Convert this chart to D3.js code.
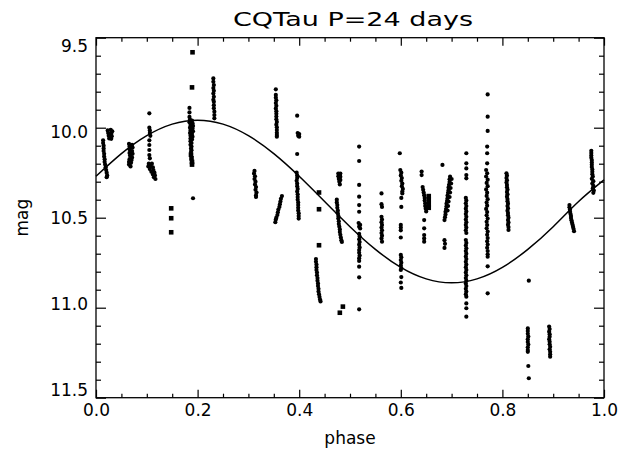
<!DOCTYPE html>
<html>
<head>
<meta charset="utf-8">
<script src="https://cdn.jsdelivr.net/npm/d3@7"></script>
<style>
body { margin: 0; background: #fff; }
text { font-family: "DejaVu Sans", sans-serif; fill: #000; }
</style>
</head>
<body>
<div id="dis"></div>
<script>
var TITLE = "CQTau P=24 days";
var X_LABEL = "phase";
var Y_LABEL = "mag";

var xTicks = [0, 0.2, 0.4, 0.6, 0.8, 1.0];
var xMinor = [0.05, 0.1, 0.15, 0.25, 0.3, 0.35, 0.45, 0.5, 0.55, 0.65, 0.7, 0.75, 0.85, 0.9, 0.95];
var yTicks = [9.5, 10.0, 10.5, 11.0, 11.5];
var yMinor = [9.6, 9.7, 9.8, 9.9, 10.1, 10.2, 10.3, 10.4, 10.6, 10.7, 10.8, 10.9, 11.1, 11.2, 11.3, 11.4];

// fitted light curve, every 0.05 in phase
var fitPhase = [0, 0.05, 0.1, 0.15, 0.2, 0.25, 0.3, 0.35, 0.4, 0.45, 0.5,
                0.55, 0.6, 0.65, 0.7, 0.75, 0.8, 0.85, 0.9, 0.95, 1.0];
var fitMag = [10.270, 10.144, 10.044, 9.980, 9.958, 9.980, 10.044, 10.144, 10.270, 10.410, 10.550,
              10.676, 10.776, 10.840, 10.862, 10.840, 10.776, 10.676, 10.550, 10.410, 10.290];

// observations plotted as dots: [phase, mag]
var dotObs = [
    // ~0.02
    [0.014,10.07],[0.014,10.085],[0.015,10.10],[0.015,10.115],[0.015,10.13],[0.016,10.145],[0.016,10.16],
    [0.017,10.175],[0.017,10.19],[0.018,10.205],[0.019,10.22],[0.020,10.235],[0.021,10.25],[0.022,10.265],[0.021,10.275],
    [0.023,10.015],[0.029,10.012],[0.032,10.02],[0.024,10.03],[0.030,10.032],[0.025,10.045],[0.031,10.047],[0.026,10.06],[0.030,10.062],
    // ~0.07
    [0.065,10.09],[0.071,10.095],[0.066,10.105],[0.072,10.11],[0.066,10.12],[0.071,10.13],[0.066,10.14],[0.072,10.145],
    [0.067,10.155],[0.071,10.165],[0.066,10.175],[0.070,10.18],[0.065,10.19],[0.069,10.195],[0.065,10.205],[0.068,10.215],
    // ~0.105
    [0.105,9.92],[0.105,10.0],[0.106,10.015],[0.106,10.03],[0.107,10.045],[0.105,10.07],[0.105,10.096],[0.105,10.124],
    [0.105,10.152],[0.106,10.17],[0.104,10.20],[0.110,10.20],[0.103,10.215],[0.108,10.215],[0.112,10.22],[0.106,10.23],
    [0.113,10.235],[0.109,10.245],[0.115,10.25],[0.112,10.26],[0.116,10.265],[0.114,10.275],[0.117,10.285],
    // ~0.19
    [0.184,9.89],[0.184,9.915],[0.184,9.94],[0.185,9.955],[0.189,9.96],[0.184,9.97],[0.190,9.975],[0.186,9.985],
    [0.191,9.99],[0.185,10.0],[0.190,10.005],[0.186,10.015],[0.191,10.02],[0.185,10.03],[0.189,10.035],[0.186,10.045],
    [0.190,10.05],[0.186,10.06],[0.189,10.065],[0.186,10.075],[0.188,10.085],[0.186,10.095],[0.188,10.105],[0.187,10.115],
    [0.188,10.125],[0.187,10.135],[0.191,10.392],
    // ~0.23
    [0.231,9.726],[0.231,9.745],[0.232,9.763],[0.231,9.78],[0.232,9.795],[0.231,9.81],[0.232,9.828],[0.231,9.845],
    [0.232,9.856],[0.232,9.875],[0.232,9.892],[0.233,9.911],[0.233,9.93],[0.233,9.948],
    // ~0.31
    [0.312,10.24],[0.311,10.255],[0.313,10.27],[0.312,10.285],[0.314,10.30],[0.313,10.315],[0.315,10.33],[0.314,10.345],
    [0.316,10.36],[0.315,10.375],[0.315,10.385],
    // ~0.355
    [0.354,9.787],[0.354,9.818],[0.354,9.833],[0.355,9.848],[0.354,9.863],[0.355,9.878],[0.354,9.893],[0.355,9.908],
    [0.355,9.923],[0.355,9.938],[0.355,9.953],[0.356,9.968],[0.355,9.983],[0.356,9.998],[0.356,10.013],[0.356,10.028],
    [0.356,10.04],[0.356,10.05],
    [0.366,10.38],[0.364,10.395],[0.363,10.41],[0.362,10.425],[0.361,10.44],[0.359,10.455],[0.358,10.47],[0.357,10.485],
    [0.355,10.50],[0.354,10.51],[0.353,10.525],
    // ~0.397
    [0.396,9.933],[0.397,10.03],[0.400,10.035],[0.398,10.045],[0.400,10.05],[0.396,10.146],
    [0.395,10.25],[0.396,10.265],[0.396,10.28],[0.395,10.295],[0.396,10.31],[0.396,10.325],[0.397,10.34],[0.396,10.355],
    [0.397,10.37],[0.397,10.385],[0.397,10.40],[0.398,10.415],[0.398,10.43],[0.398,10.445],[0.398,10.46],[0.399,10.475],
    [0.399,10.49],[0.399,10.505],
    // ~0.435
    [0.433,10.73],[0.433,10.745],[0.434,10.76],[0.434,10.775],[0.434,10.79],[0.435,10.805],[0.435,10.82],[0.436,10.835],
    [0.436,10.85],[0.437,10.865],[0.437,10.88],[0.438,10.895],[0.438,10.91],[0.439,10.925],[0.440,10.94],[0.441,10.955],[0.442,10.965],
    // ~0.478
    [0.477,10.255],[0.481,10.255],[0.477,10.27],[0.481,10.272],[0.478,10.285],[0.481,10.29],[0.479,10.30],[0.480,10.315],
    [0.474,10.40],[0.474,10.415],[0.475,10.43],[0.475,10.445],[0.476,10.46],[0.476,10.475],[0.477,10.49],[0.477,10.505],
    [0.478,10.52],[0.478,10.535],[0.479,10.55],[0.480,10.565],[0.480,10.58],[0.481,10.595],[0.482,10.61],[0.483,10.625],[0.484,10.635],
    // ~0.518
    [0.518,10.105],[0.518,10.185],[0.518,10.318],[0.518,10.383],[0.518,10.43],[0.518,10.467],[0.517,10.53],[0.520,10.54],
    [0.518,10.55],[0.520,10.56],[0.518,10.59],[0.519,10.605],[0.518,10.62],[0.519,10.635],[0.518,10.65],[0.519,10.665],
    [0.518,10.68],[0.518,10.695],[0.519,10.71],[0.518,10.725],[0.518,10.74],[0.518,10.772],[0.518,10.831],[0.518,11.009],
    // ~0.562
    [0.562,10.365],[0.562,10.425],[0.563,10.44],[0.562,10.495],[0.563,10.51],[0.562,10.525],[0.563,10.54],[0.562,10.555],
    [0.563,10.57],[0.562,10.585],[0.563,10.60],[0.562,10.615],[0.563,10.633],
    // ~0.60
    [0.598,10.142],[0.599,10.235],[0.601,10.25],[0.600,10.265],[0.602,10.28],[0.601,10.295],[0.603,10.31],[0.602,10.325],
    [0.604,10.34],[0.603,10.355],[0.603,10.365],[0.601,10.39],[0.601,10.44],[0.600,10.54],[0.600,10.555],[0.600,10.57],
    [0.600,10.61],[0.600,10.707],[0.601,10.72],[0.600,10.735],[0.601,10.75],[0.600,10.765],[0.601,10.78],[0.600,10.79],
    [0.601,10.83],[0.600,10.86],[0.601,10.89],
    // ~0.646
    [0.641,10.244],[0.641,10.263],[0.643,10.33],[0.644,10.345],[0.645,10.36],[0.646,10.375],[0.647,10.39],[0.647,10.405],
    [0.648,10.42],[0.648,10.435],[0.649,10.45],[0.650,10.465],[0.646,10.513],[0.646,10.559],[0.646,10.596],[0.646,10.615],[0.646,10.633],
    // ~0.69
    [0.682,10.207],
    [0.697,10.272],[0.696,10.287],[0.696,10.302],[0.695,10.317],[0.694,10.332],[0.694,10.347],[0.693,10.362],[0.692,10.377],
    [0.692,10.392],[0.691,10.407],[0.690,10.422],[0.690,10.437],[0.689,10.452],[0.688,10.467],[0.688,10.482],[0.687,10.497],[0.686,10.513],
    [0.700,10.285],[0.699,10.31],[0.698,10.335],[0.697,10.36],[0.696,10.385],[0.694,10.41],[0.693,10.435],[0.692,10.46],
    [0.686,10.625],[0.687,10.645],[0.686,10.668],
    // ~0.729
    [0.729,10.142],[0.729,10.198],[0.729,10.226],[0.729,10.263],[0.729,10.281],
    [0.728,10.39],[0.729,10.405],[0.728,10.42],[0.729,10.435],[0.728,10.45],[0.729,10.465],[0.728,10.48],[0.729,10.495],
    [0.728,10.51],[0.729,10.525],[0.728,10.54],[0.729,10.555],[0.728,10.57],[0.729,10.585],
    [0.728,10.624],[0.729,10.64],[0.728,10.655],[0.729,10.67],[0.728,10.685],[0.729,10.70],[0.728,10.715],[0.729,10.73],
    [0.728,10.745],[0.729,10.76],[0.728,10.775],[0.729,10.79],[0.728,10.805],[0.729,10.82],[0.728,10.835],[0.729,10.85],
    [0.728,10.865],[0.729,10.88],[0.728,10.895],[0.729,10.91],[0.728,10.925],[0.729,10.939],[0.729,10.976],[0.729,11.003],[0.729,11.05],
    // ~0.77
    [0.771,9.815],[0.771,9.939],[0.771,10.018],[0.770,10.105],[0.770,10.142],[0.770,10.198],
    [0.768,10.235],[0.770,10.253],[0.768,10.271],[0.771,10.289],[0.769,10.307],[0.771,10.325],[0.768,10.343],[0.770,10.361],
    [0.769,10.379],[0.771,10.397],[0.769,10.415],[0.770,10.433],[0.768,10.451],[0.770,10.469],[0.769,10.487],[0.771,10.505],
    [0.769,10.523],[0.770,10.541],[0.769,10.559],[0.771,10.577],[0.770,10.595],[0.771,10.613],[0.770,10.631],[0.771,10.649],
    [0.770,10.667],[0.771,10.685],[0.771,10.703],[0.771,10.717],[0.771,10.77],[0.771,10.92],
    // ~0.81
    [0.808,10.253],[0.809,10.266],[0.808,10.279],[0.809,10.292],[0.808,10.305],[0.809,10.318],[0.809,10.331],[0.810,10.344],
    [0.809,10.357],[0.810,10.37],[0.809,10.383],[0.810,10.396],[0.810,10.409],[0.811,10.422],[0.810,10.435],[0.811,10.448],
    [0.810,10.461],[0.811,10.474],[0.811,10.487],[0.812,10.50],[0.811,10.513],[0.812,10.526],[0.811,10.539],[0.812,10.552],[0.812,10.568],
    // ~0.85
    [0.852,10.85],
    [0.850,11.115],[0.850,11.13],[0.850,11.145],[0.851,11.16],[0.850,11.175],[0.850,11.19],[0.851,11.205],[0.850,11.22],
    [0.850,11.235],[0.850,11.245],[0.851,11.324],[0.852,11.392],
    // ~0.89
    [0.892,11.105],[0.893,11.119],[0.892,11.133],[0.893,11.147],[0.893,11.161],[0.892,11.175],[0.893,11.189],[0.893,11.203],
    [0.894,11.217],[0.893,11.231],[0.894,11.245],[0.894,11.259],[0.894,11.272],
    // ~0.935
    [0.932,10.43],[0.932,10.442],[0.933,10.454],[0.933,10.466],[0.934,10.478],[0.935,10.49],[0.935,10.502],[0.936,10.514],
    [0.937,10.526],[0.938,10.538],[0.939,10.55],[0.940,10.562],[0.941,10.575],
    // ~0.977
    [0.975,10.128],[0.975,10.141],[0.975,10.154],[0.975,10.167],[0.976,10.18],[0.976,10.193],[0.976,10.206],[0.976,10.219],
    [0.977,10.232],[0.977,10.245],[0.977,10.258],[0.978,10.271],[0.976,10.284],[0.979,10.297],[0.977,10.31],[0.979,10.323],
    [0.978,10.336],[0.980,10.349],[0.979,10.362]
];

// observations plotted as squares: [phase, mag]
var squareObs = [
    [0.148,10.448],[0.148,10.503],[0.148,10.581],
    [0.190,9.581],[0.189,9.776],[0.187,10.15],[0.188,10.17],[0.189,10.19],[0.189,10.205],
    [0.439,10.36],[0.439,10.453],[0.439,10.653],
    [0.486,10.994],[0.480,11.028],
    [0.655,10.38],[0.655,10.40],[0.655,10.425],[0.655,10.445]
];

var draw = function() {
    var width = 631;
    var height = 460;
    var left = 96, right = 604, top = 37.7, bottom = 397.7;

    var x = d3.scaleLinear().domain([0, 1]).range([left, right]);
    var y = d3.scaleLinear().domain([9.5, 11.5]).range([top, bottom]);
    // IDL pulls the end labels in towards the middle of the axis
    var yLab = d3.scaleLinear().domain([9.5, 11.5]).range([top + 8, bottom - 8]);

    var svg = d3.select("#dis").append("svg")
        .attr("width", width)
        .attr("height", height)
        .style("background", "#fff");

    var fmt = d3.format(".1f");

    // bottom
    var gb = svg.append("g").attr("transform", "translate(0," + bottom + ")");
    gb.call(d3.axisBottom(x).tickValues(xTicks).tickSize(-8).tickPadding(6).tickFormat(fmt));
    gb.append("g").call(d3.axisBottom(x).tickValues(xMinor).tickSize(-4).tickFormat(""));
    // top
    var gt = svg.append("g").attr("transform", "translate(0," + top + ")");
    gt.call(d3.axisTop(x).tickValues(xTicks).tickSize(-8).tickFormat(""));
    gt.append("g").call(d3.axisTop(x).tickValues(xMinor).tickSize(-4).tickFormat(""));
    // left
    var gl = svg.append("g").attr("transform", "translate(" + left + ",0)");
    gl.call(d3.axisLeft(y).tickValues(yTicks).tickSize(-10).tickPadding(8).tickFormat(fmt));
    gl.append("g").call(d3.axisLeft(y).tickValues(yMinor).tickSize(-5).tickFormat(""));
    gl.selectAll(".tick text").attr("y", d => yLab(d) - y(d));
    // right
    var gr = svg.append("g").attr("transform", "translate(" + right + ",0)");
    gr.call(d3.axisRight(y).tickValues(yTicks).tickSize(-10).tickFormat(""));
    gr.append("g").call(d3.axisRight(y).tickValues(yMinor).tickSize(-5).tickFormat(""));

    svg.selectAll(".domain").remove();
    svg.selectAll(".tick line").attr("stroke", "#000").attr("stroke-width", 1.2);
    svg.selectAll(".tick text")
        .style("font-family", "DejaVu Sans, sans-serif")
        .style("font-size", "17px")
        .attr("fill", "#000");

    svg.append("rect")
        .attr("x", left).attr("y", top)
        .attr("width", right - left).attr("height", bottom - top)
        .attr("fill", "none")
        .attr("stroke", "#000")
        .attr("stroke-width", 1.3);

    // fitted curve
    var line = d3.line()
        .x(function(d, i) { return x(fitPhase[i]); })
        .y(function(d, i) { return y(fitMag[i]); })
        .curve(d3.curveNatural);
    svg.append("path")
        .datum(fitPhase)
        .attr("d", line)
        .attr("fill", "none")
        .attr("stroke", "#000")
        .attr("stroke-width", 1.5);

    svg.append("g")
        .selectAll("circle")
        .data(dotObs)
        .join("circle")
        .attr("cx", d => x(d[0]))
        .attr("cy", d => y(d[1]))
        .attr("r", 2.1)
        .attr("fill", "#000");

    var sq = 4.6;
    svg.append("g")
        .selectAll("rect")
        .data(squareObs)
        .join("rect")
        .attr("x", d => x(d[0]) - sq / 2)
        .attr("y", d => y(d[1]) - sq / 2)
        .attr("width", sq)
        .attr("height", sq)
        .attr("fill", "#000");

    svg.append("text")
        .attr("x", (left + right) / 2 + 3)
        .attr("y", 26)
        .attr("text-anchor", "middle")
        .attr("font-size", 20)
        .attr("textLength", 240)
        .attr("lengthAdjust", "spacingAndGlyphs")
        .text(TITLE);

    svg.append("text")
        .attr("x", (left + right) / 2)
        .attr("y", 444)
        .attr("text-anchor", "middle")
        .attr("font-size", 17)
        .text(X_LABEL);

    svg.append("text")
        .attr("transform", "translate(28," + ((top + bottom) / 2) + ") rotate(-90)")
        .attr("text-anchor", "middle")
        .attr("font-size", 17)
        .text(Y_LABEL);
};

draw();
</script>
</body>
</html>
